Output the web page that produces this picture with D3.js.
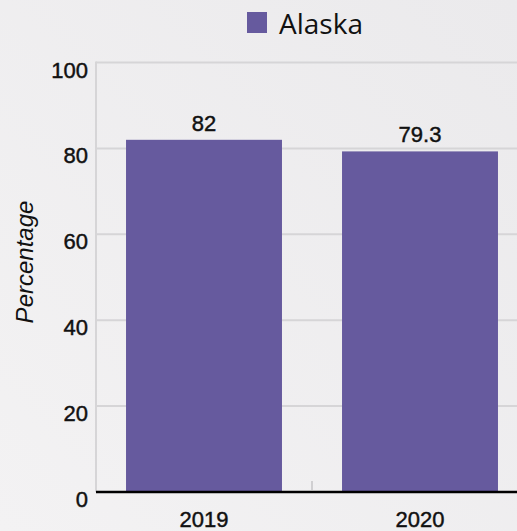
<!DOCTYPE html>
<html>
<head>
<meta charset="utf-8">
<style>
body { margin: 0; }
svg { display: block; }
.tick-label, .val-label { font: 22px "Liberation Sans", Arial, sans-serif; fill: #111; stroke: #111; stroke-width: 0.45px; }
</style>
<script src="https://cdn.jsdelivr.net/npm/d3@7"></script>
</head>
<body>
<script>
var years = ["2019", "2020"];
var values = [82, 79.3];
var yTicks = [0, 20, 40, 60, 80, 100];
var seriesName = "Alaska";

var width = 517, height = 531;
var color = "#665a9e";

var svg = d3.select("body").append("svg")
    .attr("width", width)
    .attr("height", height);

// background
var grad = svg.append("defs").append("linearGradient")
    .attr("id", "bg")
    .attr("x1", "0%").attr("y1", "100%")
    .attr("x2", "100%").attr("y2", "0%");
grad.append("stop").attr("offset", "0%").attr("stop-color", "#f3f2f3");
grad.append("stop").attr("offset", "100%").attr("stop-color", "#ebeaec");
svg.append("rect").attr("width", width).attr("height", height).attr("fill", "url(#bg)");

var plotLeft = 96, plotTop = 62.5, plotBottom = 492;

var x = d3.scaleBand()
    .domain(years)
    .range([plotLeft, plotLeft + 432])
    .paddingInner(0.278)
    .paddingOuter(0.139);

var y = d3.scaleLinear()
    .domain([0, 100])
    .range([plotBottom, plotTop]);

// gridlines
svg.append("g").selectAll("line")
    .data(yTicks.filter(function(d) { return d > 0; }))
    .enter().append("line")
    .attr("x1", plotLeft).attr("x2", width)
    .attr("y1", function(d) { return y(d); })
    .attr("y2", function(d) { return y(d); })
    .attr("stroke", "#d6d5d7")
    .attr("stroke-width", 2);

// y axis line
svg.append("line")
    .attr("x1", plotLeft).attr("x2", plotLeft)
    .attr("y1", plotTop - 1).attr("y2", plotBottom)
    .attr("stroke", "#d6d5d7")
    .attr("stroke-width", 2);

// y tick labels
svg.append("g").selectAll("text")
    .data(yTicks)
    .enter().append("text")
    .attr("class", "tick-label")
    .attr("x", 88)
    .attr("y", function(d) { return y(d) + 15; })
    .attr("text-anchor", "end")
    .text(function(d) { return d; });

// middle tick between categories
svg.append("line")
    .attr("x1", plotLeft + 216).attr("x2", plotLeft + 216)
    .attr("y1", plotBottom - 11).attr("y2", plotBottom - 2)
    .attr("stroke", "#d0cfd1")
    .attr("stroke-width", 2);

// bars
svg.append("g").selectAll("rect")
    .data(values)
    .enter().append("rect")
    .attr("x", function(d, i) { return x(years[i]); })
    .attr("width", x.bandwidth())
    .attr("y", function(d) { return y(d); })
    .attr("height", function(d) { return y(0) - y(d); })
    .attr("fill", color);

// x axis line
svg.append("line")
    .attr("x1", plotLeft).attr("x2", width)
    .attr("y1", plotBottom).attr("y2", plotBottom)
    .attr("stroke", "#000")
    .attr("stroke-width", 2.5);

// value labels
svg.append("g").selectAll("text")
    .data(values)
    .enter().append("text")
    .attr("class", "val-label")
    .attr("x", function(d, i) { return x(years[i]) + x.bandwidth() / 2; })
    .attr("y", function(d) { return y(d) - 9; })
    .attr("text-anchor", "middle")
    .text(function(d) { return d; });

// x labels
svg.append("g").selectAll("text")
    .data(years)
    .enter().append("text")
    .attr("class", "tick-label")
    .attr("x", function(d) { return x(d) + x.bandwidth() / 2; })
    .attr("y", 527)
    .attr("text-anchor", "middle")
    .text(function(d) { return d; });

// y axis title
svg.append("text")
    .attr("transform", "translate(33,262) rotate(-90)")
    .attr("text-anchor", "middle")
    .style("font", "italic 24px 'Liberation Sans', Arial, sans-serif")
    .attr("fill", "#111")
    .text("Percentage");

// legend
svg.append("rect")
    .attr("x", 247).attr("y", 12)
    .attr("width", 20).attr("height", 21)
    .attr("fill", color);
svg.append("text")
    .attr("x", 279).attr("y", 34)
    .style("font", "28px 'Open Sans', sans-serif")
    .attr("fill", "#111")
    .text(seriesName);
</script>
</body>
</html>
